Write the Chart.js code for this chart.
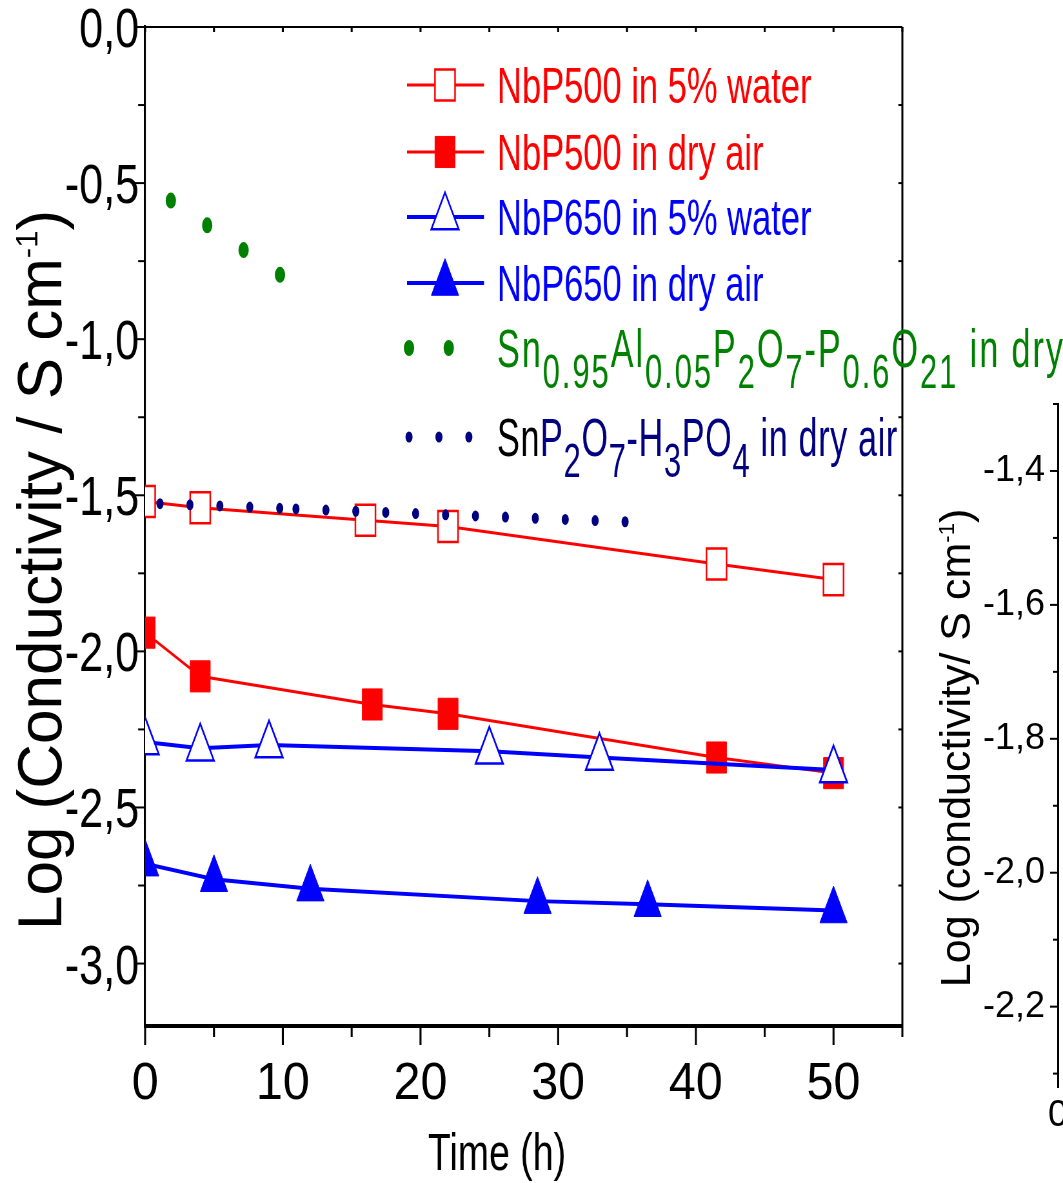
<!DOCTYPE html>
<html>
<head>
<meta charset="utf-8">
<title>Conductivity vs time</title>
<script src="https://cdn.jsdelivr.net/npm/chart.js@4.4.1/dist/chart.umd.min.js"></script>
<style>
  html, body { margin: 0; padding: 0; background: #fff; }
  #page { position: relative; width: 1063px; height: 1183px; overflow: hidden; background: #fff; }
  #main { position: absolute; left: 0; top: 0; transform: scaleX(0.645); transform-origin: 0 0; }
  #inset { position: absolute; left: 900px; top: 380px; }
</style>
</head>
<body>
<div id="page">
  <div id="main"><canvas id="mainChart" width="1648" height="1183"></canvas></div>
  <canvas id="inset" width="320" height="800"></canvas>
</div>
<script>
// series: time (h) and log conductivity
const timeWater500 = [0, 4, 16, 22, 41.5, 50];
const logWater500 = [-1.52, -1.54, -1.58, -1.60, -1.72, -1.77];
const timeDry500 = [0, 4, 16.5, 22, 41.5, 50];
const logDry500 = [-1.94, -2.08, -2.17, -2.20, -2.34, -2.39];
const timeWater650 = [0, 4, 9, 25, 33, 50];
const logWater650 = [-2.29, -2.31, -2.30, -2.32, -2.34, -2.38];
const timeDry650 = [0, 5, 12, 28.5, 36.5, 50];
const logDry650 = [-2.68, -2.73, -2.76, -2.80, -2.81, -2.83];
const timeSnAlP = [0, 10];
const logSnAlP = [-0.50, -0.80];
const timeSnP2O7 = [0, 10, 35];
const logSnP2O7 = [-1.525, -1.542, -1.585];

// axis ranges
const timeRange = [0, 55];
const logRange = [-3.2, 0];
const insetLogRange = [-2.32, -1.3];

const RED = '#ff0000', BLUE = '#0000ff', GREEN = '#008000', NAVY = '#000080';
const FONT = "'Liberation Sans', Arial, Helvetica, sans-serif";

// main panel is drawn wide and squeezed horizontally by CSS
const S = 0.645;
const W = 1648, H = 1183;

const pts = (xs, ys) => xs.map((x, i) => ({ x, y: ys[i] }));
const comma = v => (Math.abs(v) < 1e-9 ? 0 : v).toFixed(1).replace('.', ',');

function marker(ctx, style, r, x, y, fill, stroke, lw) {
  ctx.beginPath();
  if (style === 'rect') {
    const h = Math.SQRT1_2 * r;
    ctx.rect(x - h, y - h, 2 * h, 2 * h);
  } else {
    ctx.moveTo(x, y - r);
    ctx.lineTo(x + 0.866 * r, y + 0.5 * r);
    ctx.lineTo(x - 0.866 * r, y + 0.5 * r);
    ctx.closePath();
  }
  ctx.fillStyle = fill;
  ctx.fill();
  ctx.lineWidth = lw;
  ctx.strokeStyle = stroke;
  ctx.stroke();
}

// text whose on-screen width is k times its natural width
function squeezedText(ctx, text, x, y, size, k, align, color) {
  ctx.save();
  ctx.translate(x, y);
  ctx.scale(k / S, 1);
  ctx.font = size + 'px ' + FONT;
  ctx.fillStyle = color || '#000';
  ctx.textAlign = align;
  ctx.textBaseline = 'alphabetic';
  ctx.fillText(text, 0, 0);
  ctx.restore();
}

// rotated axis title with a superscript, text baseline at bx, centred on cy
function rotatedTitle(ctx, bx, cy, size, main, sup, tail, squeeze) {
  ctx.save();
  ctx.translate(bx, cy);
  ctx.scale(1 / squeeze, 1);
  ctx.rotate(-Math.PI / 2);
  ctx.fillStyle = '#000';
  ctx.textBaseline = 'alphabetic';
  ctx.textAlign = 'left';
  const big = size + 'px ' + FONT, small = Math.round(size * 0.5) + 'px ' + FONT;
  ctx.font = big; const w1 = ctx.measureText(main).width, w3 = ctx.measureText(tail).width;
  ctx.font = small; const w2 = ctx.measureText(sup).width;
  let x = -(w1 + w2 + w3) / 2;
  ctx.font = big; ctx.fillText(main, x, 0); x += w1;
  ctx.font = small; ctx.fillText(sup, x, -size * 0.38); x += w2;
  ctx.font = big; ctx.fillText(tail, x, 0);
  ctx.restore();
}

const legendRows = [
  { ds: 0, y: 85, base: 102.5, size: 50, k: 0.69, ls: 0, parts: [['NbP500 in 5% water', RED]] },
  { ds: 1, y: 152, base: 169.5, size: 50, k: 0.69, ls: 0, parts: [['NbP500 in dry air', RED]] },
  { ds: 2, y: 217, base: 234.5, size: 50, k: 0.69, ls: 0, parts: [['NbP650 in 5% water', BLUE]] },
  { ds: 3, y: 283, base: 300.5, size: 50, k: 0.69, ls: 0, parts: [['NbP650 in dry air', BLUE]] },
  { ds: 4, y: 348, base: 367, size: 53, k: 0.645, ls: 3, parts: [
    ['Sn', GREEN], ['0.95', GREEN, 1], ['Al', GREEN], ['0.05', GREEN, 1], ['P', GREEN], ['2', GREEN, 1],
    ['O', GREEN], ['7', GREEN, 1], ['-P', GREEN], ['0.6', GREEN, 1], ['O', GREEN], ['21', GREEN, 1], [' in dry air', GREEN]] },
  { ds: 5, y: 437, base: 456, size: 53, k: 0.645, ls: 1, parts: [
    ['Sn', '#000'], ['P', NAVY], ['2', NAVY, 1], ['O', NAVY], ['7', NAVY, 1], ['-H', NAVY], ['3', NAVY, 1],
    ['PO', NAVY], ['4', NAVY, 1], [' in dry air', NAVY]] }
];

const framePlugin = {
  id: 'frame',
  afterDraw(chart) {
    const { ctx, chartArea: a, scales: { x, y } } = chart;
    const seg = (x1, y1, x2, y2) => { ctx.beginPath(); ctx.moveTo(x1, y1); ctx.lineTo(x2, y2); ctx.stroke(); };
    ctx.save();
    ctx.strokeStyle = '#000';
    ctx.lineWidth = 2;
    seg(a.left - 1 / S, a.top, a.right, a.top);
    ctx.lineWidth = 2 / S;
    seg(a.right, a.top, a.right, a.bottom);
    // time ticks, long on every 10 h
    for (let k = 0; k <= 11; k++) {
      const px = x.getPixelForValue(k * 5);
      ctx.lineWidth = 2 / S;
      seg(px, a.bottom, px, a.bottom + (k % 2 === 0 ? 19 : 11));
      seg(px, a.top, px, a.top + 5);
    }
    // log ticks every 0.25
    ctx.lineWidth = 2;
    for (let k = 0; k <= 12; k++) {
      const py = y.getPixelForValue(-k * 0.25);
      seg(a.left, py, a.left - (k % 2 === 0 ? 11 : 7) / S, py);
      seg(a.right, py, a.right - 4 / S, py);
    }
    ctx.restore();

    // tick labels from the scales' own ticks
    x.ticks.forEach(t => squeezedText(ctx, String(t.value), x.getPixelForValue(t.value), 1099, 52, 0.93, 'center'));
    y.ticks.forEach(t => squeezedText(ctx, comma(t.value), a.left - 6 / S, y.getPixelForValue(t.value) + 20, 56, 0.77, 'right'));

    // legend
    const x0 = 407 / S, x1 = 484 / S, xm = 445 / S, xt = 497 / S;
    legendRows.forEach(row => {
      const ds = chart.data.datasets[row.ds];
      ctx.save();
      ctx.strokeStyle = ds.borderColor;
      ctx.lineWidth = ds.borderWidth;
      if (ds.borderDash) {
        ctx.setLineDash(ds.borderDash);
        ctx.lineCap = 'round';
        seg(409 / S, row.y, x1, row.y);
      } else {
        seg(x0, row.y, x1, row.y);
        marker(ctx, ds.pointStyle, ds.pointRadius, xm, row.y, ds.pointBackgroundColor, ds.pointBorderColor, ds.pointBorderWidth);
      }
      ctx.restore();

      ctx.save();
      ctx.translate(xt, row.base);
      ctx.scale(row.k / S, 1);
      ctx.textBaseline = 'alphabetic';
      ctx.textAlign = 'left';
      ctx.letterSpacing = row.ls + 'px';
      let tx = 0;
      row.parts.forEach(([t, c, sub]) => {
        ctx.font = (sub ? Math.round(row.size * 0.9) : row.size) + 'px ' + FONT;
        ctx.fillStyle = c;
        ctx.fillText(t, tx, sub ? 21 : 0);
        tx += ctx.measureText(t).width;
      });
      ctx.restore();
    });

    // axis titles
    squeezedText(ctx, 'Time (h)', 497 / S, 1170, 52, 0.72, 'center');
    rotatedTitle(ctx, 61 / S, 570, 62, 'Log (Conductivity / S cm', '-1', ')', S);
  }
};

new Chart(document.getElementById('mainChart'), {
  type: 'line',
  data: {
    datasets: [
      { label: 'NbP500 in 5% water', data: pts(timeWater500, logWater500), order: 5,
        borderColor: RED, borderWidth: 3, pointStyle: 'rect', pointRadius: 22,
        pointBackgroundColor: '#fff', pointBorderColor: RED, pointBorderWidth: 2.5 },
      { label: 'NbP500 in dry air', data: pts(timeDry500, logDry500), order: 4,
        borderColor: RED, borderWidth: 3, pointStyle: 'rect', pointRadius: 22,
        pointBackgroundColor: RED, pointBorderColor: RED, pointBorderWidth: 1 },
      { label: 'NbP650 in 5% water', data: pts(timeWater650, logWater650), order: 2,
        borderColor: BLUE, borderWidth: 4, pointStyle: 'triangle', pointRadius: 24.5,
        pointBackgroundColor: '#fff', pointBorderColor: BLUE, pointBorderWidth: 2.5 },
      { label: 'NbP650 in dry air', data: pts(timeDry650, logDry650), order: 3,
        borderColor: BLUE, borderWidth: 4, pointStyle: 'triangle', pointRadius: 24.5,
        pointBackgroundColor: BLUE, pointBorderColor: BLUE, pointBorderWidth: 1 },
      { label: 'Sn0.95Al0.05P2O7-P0.6O21 in dry air', data: pts(timeSnAlP, logSnAlP), order: 1,
        borderColor: GREEN, borderWidth: 16, borderDash: [0, 61.6], borderDashOffset: 18.1,
        borderCapStyle: 'round', pointRadius: 0 },
      { label: 'SnP2O7-H3PO4 in dry air', data: pts(timeSnP2O7, logSnP2O7), order: 0,
        borderColor: NAVY, borderWidth: 11, borderDash: [0, 46.4], borderCapStyle: 'round', pointRadius: 0,
        segment: { borderDashOffset: c => (c.p0DataIndex === 0 ? 23.3 : 26) } }
    ]
  },
  options: {
    responsive: false,
    animation: false,
    devicePixelRatio: 1,
    layout: { padding: { top: 24, right: W - Math.round(902.5 / S), left: 0, bottom: 0 } },
    plugins: { legend: { display: false }, tooltip: { enabled: false } },
    scales: {
      x: {
        type: 'linear', min: timeRange[0], max: timeRange[1],
        ticks: { display: false, stepSize: 10, includeBounds: false },
        grid: { display: false, drawTicks: false },
        border: { color: '#000', width: 4 },
        afterFit: s => { s.height = H - 1026; s.paddingLeft = 0; s.paddingRight = 0; }
      },
      y: {
        min: logRange[0], max: logRange[1],
        ticks: { display: false, stepSize: 0.5, includeBounds: false },
        grid: { display: false, drawTicks: false },
        border: { color: '#000', width: 2 / S },
        afterFit: s => { s.width = Math.round(145 / S); s.paddingTop = 0; s.paddingBottom = 0; }
      }
    }
  },
  plugins: [framePlugin]
});

// second panel, only its left axis shows
const insetPlugin = {
  id: 'insetAxis',
  afterDraw(chart) {
    const { ctx, chartArea: a, scales: { y } } = chart;
    ctx.save();
    ctx.strokeStyle = '#000';
    ctx.lineWidth = 2;
    for (let k = 13; k <= 23; k++) {
      const py = y.getPixelForValue(-k / 10);
      ctx.beginPath();
      ctx.moveTo(a.left, py);
      ctx.lineTo(a.left - (k % 2 === 0 ? 8 : 5), py);
      ctx.stroke();
    }
    ctx.restore();
    rotatedTitle(ctx, 70, 368, 43, 'Log (conductivity/ S cm', '-1', ')', 1);
  }
};

new Chart(document.getElementById('inset'), {
  type: 'scatter',
  data: { datasets: [] },
  options: {
    responsive: false,
    animation: false,
    devicePixelRatio: 1,
    layout: { padding: { top: 24, right: 0, left: 0, bottom: 0 } },
    plugins: { legend: { display: false }, tooltip: { enabled: false } },
    scales: {
      x: {
        type: 'linear', min: 0, max: 10,
        ticks: { stepSize: 10, padding: 7, color: '#000', font: { family: FONT, size: 36 } },
        grid: { display: false, drawTicks: false },
        border: { display: false },
        afterFit: s => { s.height = 93; s.paddingLeft = 0; s.paddingRight = 0; }
      },
      y: {
        min: insetLogRange[0], max: insetLogRange[1],
        ticks: { stepSize: 0.2, includeBounds: false, padding: 13, color: '#000', callback: comma,
                 font: { family: FONT, size: 36 } },
        grid: { display: false, drawTicks: false },
        border: { color: '#000', width: 2 },
        afterFit: s => { s.width = 158; s.paddingTop = 0; s.paddingBottom = 0; }
      }
    }
  },
  plugins: [insetPlugin]
});
</script>
</body>
</html>
